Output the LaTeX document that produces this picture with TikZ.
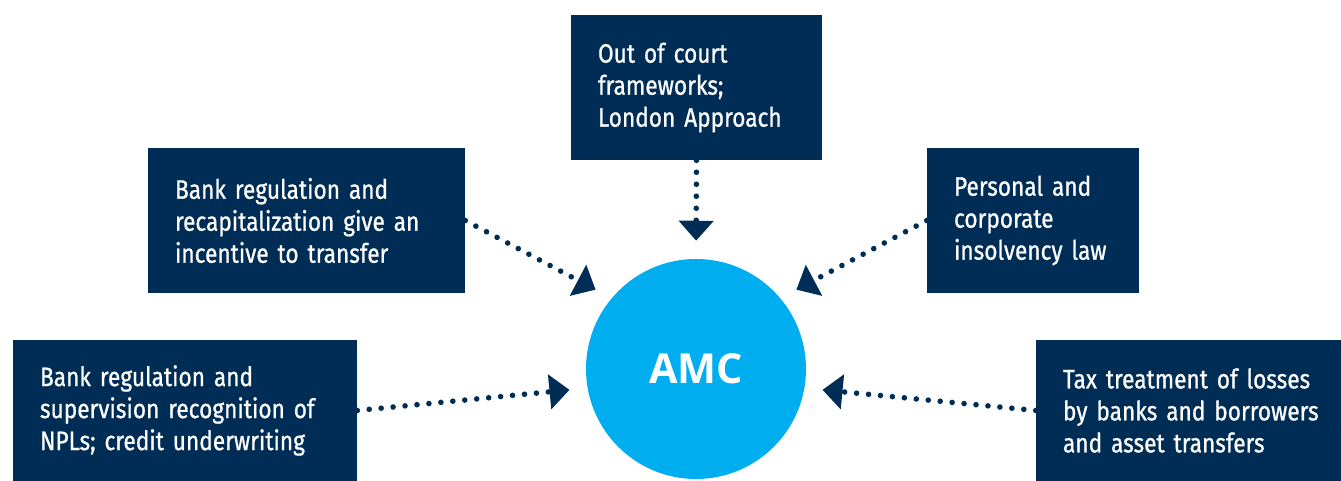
\documentclass[tikz,border=0pt]{standalone}
\usepackage{fontspec}
\setmainfont{Fira Sans}[FakeStretch=0.85, FakeBold=0.8]
\newfontfamily\amcfont{Open Sans}
\usetikzlibrary{arrows.meta}
\definecolor{navy}{HTML}{002D56}
\definecolor{amcblue}{HTML}{00AEEF}
\tikzset{
  factor/.style={fill=navy, text=white, align=left, inner xsep=20.25pt,
    font=\fontsize{20}{24}\selectfont},
  link/.style={navy, line width=4.2pt, line cap=round, dash pattern=on 0pt off 9pt,
    -{Triangle[length=15pt,width=25.5pt]}, shorten >=13.5pt}
}
\begin{document}
\begin{tikzpicture}[x=0.75pt,y=-0.75pt]
  \useasboundingbox (0,0) rectangle (1341,481);
  \node[circle, fill=amcblue, minimum size=165pt, text=white,
    font=\amcfont\bfseries\fontsize{31}{36}\selectfont] (amc) at (696,369) {AMC};
  \node[factor, text width=147.75pt, minimum height=108.75pt] (court) at (696.5,87.5)
    {Out of court\\frameworks;\\London Approach};
  \node[factor, text width=197.25pt, minimum height=108.75pt] (recap) at (306.5,220.5)
    {Bank regulation and\\recapitalization give an\\incentive to transfer};
  \node[factor, text width=118.5pt, minimum height=108.75pt] (insolv) at (1033,220.5)
    {Personal and\\corporate\\insolvency law};
  \node[factor, text width=217.5pt, minimum height=105.75pt] (superv) at (185,410.5)
    {Bank regulation and\\supervision recognition of\\NPLs; credit underwriting};
  \node[factor, text width=217.5pt, minimum height=105.75pt] (tax) at (1208,410.5)
    {Tax treatment of losses\\by banks and borrowers\\and asset transfers};
  % dotted arrows into the AMC
  \draw[link] (court.south) -- (amc.north);
  \draw[link] (recap.east) -- (amc.140);
  \draw[link] (insolv.west) -- (amc.40);
  \draw[link] (superv.east) -- (amc.190);
  \draw[link] (tax.west) -- (amc.-10);
\end{tikzpicture}
\end{document}
